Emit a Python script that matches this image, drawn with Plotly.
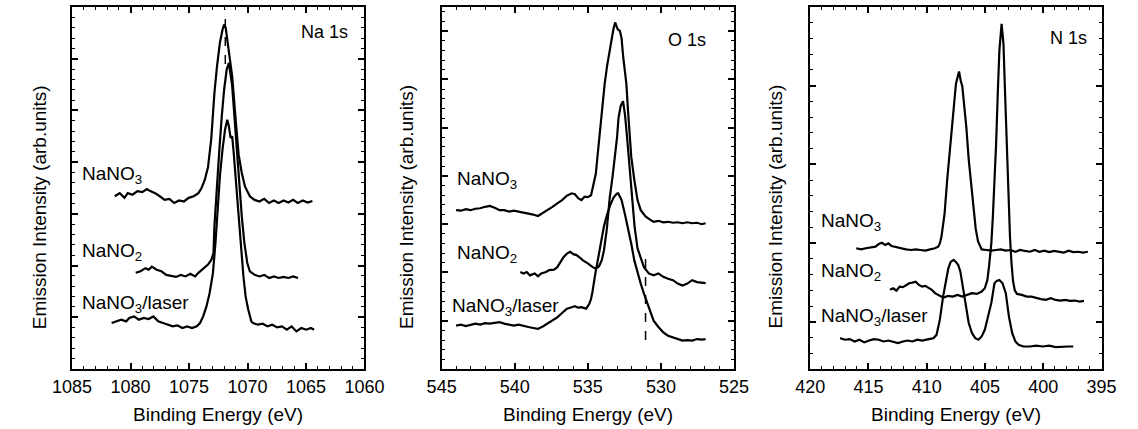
import plotly.graph_objects as go

# ---------------- spectra (binding energy in eV, intensity in arb. units) ----------------
# Na 1s
na_nano3 = [(1081.35,3.34),(1080.93,3.40),(1080.52,3.31),(1080.24,3.40),(1079.83,3.37),(1079.42,3.44),
            (1079.0,3.42),(1078.6,3.48),(1078.32,3.44),(1077.9,3.40),(1077.5,3.34),(1077.09,3.27),
            (1076.68,3.29),(1076.27,3.21),(1075.85,3.26),(1075.44,3.24),(1075.03,3.31),(1074.6,3.34),
            (1074.2,3.40),(1073.93,3.50),(1073.65,3.66),(1073.38,3.90),(1073.1,4.45),(1072.83,5.34),
            (1072.61,5.85),(1072.36,6.31),(1072.14,6.56),(1072.0,6.66),(1071.87,6.60),(1071.73,6.37),
            (1071.59,6.18),(1071.31,5.66),(1071.04,4.90),(1070.76,4.15),(1070.49,3.79),(1070.22,3.53),
            (1069.8,3.34),(1069.4,3.27),(1068.98,3.24),(1068.57,3.29),(1068.16,3.21),(1067.75,3.26),
            (1067.33,3.21),(1066.92,3.26),(1066.5,3.22),(1066.1,3.27),(1065.7,3.21),(1065.27,3.26),
            (1064.86,3.22),(1064.45,3.25)]
na_nano2 = [(1079.56,1.86),(1079.15,1.89),(1078.73,1.95),(1078.46,1.92),(1078.18,1.98),(1077.77,1.92),
            (1077.36,1.89),(1076.95,1.82),(1076.54,1.80),(1076.12,1.78),(1075.71,1.82),(1075.3,1.79),
            (1074.89,1.84),(1074.48,1.79),(1074.2,1.86),(1073.79,1.95),(1073.38,2.02),(1073.1,2.11),
            (1072.91,2.24),(1072.83,2.76),(1072.61,3.60),(1072.41,4.24),(1072.2,4.89),(1072.0,5.40),
            (1071.78,5.79),(1071.59,5.92),(1071.31,5.47),(1071.1,4.82),(1070.9,4.18),(1070.71,3.47),
            (1070.49,2.95),(1070.27,2.44),(1070.02,2.05),(1069.8,1.89),(1069.39,1.82),(1068.98,1.79),
            (1068.57,1.82),(1068.15,1.76),(1067.74,1.79),(1067.33,1.76),(1066.92,1.78),(1066.51,1.76),
            (1066.09,1.79),(1065.68,1.76)]
na_laser = [(1081.62,0.889),(1081.21,0.921),(1080.8,0.954),(1080.38,0.921),(1080.11,0.986),(1079.7,1.017),
            (1079.29,0.954),(1078.87,0.986),(1078.46,0.967),(1078.05,1.017),(1077.64,0.921),(1077.22,0.889),
            (1076.81,0.857),(1076.4,0.824),(1075.99,0.844),(1075.58,0.793),(1075.16,0.824),(1074.75,0.793),
            (1074.34,0.824),(1074.06,0.889),(1073.79,1.017),(1073.51,1.21),(1073.24,1.47),(1072.96,1.85),
            (1072.74,2.44),(1072.55,3.08),(1072.36,3.73),(1072.14,4.24),(1071.92,4.63),(1071.73,4.82),
            (1071.59,4.69),(1071.45,4.47),(1071.31,4.50),(1071.18,4.18),(1070.99,3.60),(1070.76,2.95),
            (1070.55,2.31),(1070.35,1.79),(1070.16,1.40),(1069.94,1.15),(1069.67,0.92),(1069.53,0.889),
            (1069.12,0.857),(1068.7,0.876),(1068.29,0.824),(1067.88,0.857),(1067.47,0.805),(1067.05,0.824),
            (1066.64,0.76),(1066.23,0.824),(1065.82,0.727),(1065.4,0.793),(1064.99,0.76),(1064.58,0.793),
            (1064.31,0.76)]

# O 1s
o_nano3 = [(544.01,3.29),(543.68,3.28),(543.35,3.31),(543.02,3.29),(542.69,3.32),(542.36,3.33),(542.03,3.36),
           (541.7,3.38),(541.37,3.34),(541.04,3.29),(540.72,3.29),(540.39,3.26),(540.06,3.28),(539.73,3.26),
           (539.4,3.24),(539.07,3.23),(538.74,3.20),(538.41,3.17),(538.08,3.23),(537.75,3.29),(537.42,3.36),
           (537.09,3.43),(536.76,3.50),(536.43,3.59),(536.1,3.64),(535.88,3.62),(535.66,3.54),(535.44,3.50),
           (535.22,3.57),(535.0,3.56),(534.78,3.60),(534.63,3.80),(534.45,4.05),(534.34,4.40),(534.19,4.89),
           (534.01,5.44),(533.84,5.93),(533.68,6.28),(533.53,6.56),(533.35,6.83),(533.25,7.04),(533.13,7.18),
           (532.96,7.04),(532.8,7.00),(532.69,6.85),(532.59,6.50),(532.48,6.20),(532.36,5.90),(532.26,5.40),
           (532.15,4.90),(532.03,4.40),(531.82,3.92),(531.6,3.50),(531.38,3.29),(531.05,3.16),(530.72,3.09),
           (530.5,3.05),(530.17,3.07),(529.84,3.04),(529.51,3.05),(529.18,3.03),(528.85,3.04),(528.52,3.02),
           (528.19,3.04),(527.86,3.02),(527.53,3.03),(527.2,3.00),(526.94,3.02)]
o_nano2 = [(539.62,2.01),(539.4,1.98),(539.18,2.01),(538.96,1.94),(538.63,1.98),(538.41,1.92),(538.19,1.98),
           (537.86,2.01),(537.64,2.05),(537.31,2.06),(537.09,2.11),(536.87,2.22),(536.65,2.32),(536.43,2.39),
           (536.21,2.43),(535.99,2.38),(535.77,2.36),(535.55,2.31),(535.33,2.25),(535.0,2.19),(534.67,2.11),
           (534.45,2.08),(534.23,2.13),(534.05,2.25),(533.9,2.45),(533.7,2.90),(533.5,3.55),(533.3,4.00),
           (533.15,4.35),(533.0,4.80),(532.9,5.20),(532.75,5.45),(532.59,5.55),(532.45,5.25),(532.3,4.75),
           (532.15,4.15),(532.0,3.55),(531.8,2.95),(531.6,2.50),(531.35,2.25),(531.16,2.11),(530.83,1.98),
           (530.5,1.94),(530.17,1.98),(529.84,1.91),(529.51,1.87),(529.18,1.84),(528.85,1.77),(528.52,1.73),
           (528.19,1.77),(527.86,1.84),(527.53,1.80),(527.2,1.78),(526.94,1.78)]
o_laser = [(544.01,0.90),(543.68,0.92),(543.35,0.89),(543.02,0.92),(542.69,0.94),(542.36,0.92),(542.03,0.95),
           (541.7,0.94),(541.37,0.96),(541.04,0.97),(540.72,0.94),(540.39,0.92),(540.06,0.90),(539.73,0.92),
           (539.4,0.89),(539.07,0.87),(538.74,0.85),(538.41,0.83),(538.08,0.88),(537.75,0.94),(537.42,1.00),
           (537.09,1.07),(536.76,1.16),(536.43,1.25),(536.1,1.28),(535.88,1.30),(535.66,1.27),(535.44,1.28),
           (535.11,1.25),(534.9,1.35),(534.78,1.45),(534.68,1.60),(534.5,1.95),(534.3,2.30),(534.1,2.65),
           (533.9,2.95),(533.68,3.20),(533.46,3.40),(533.24,3.55),(533.02,3.63),(532.92,3.64),(532.8,3.58),
           (532.69,3.50),(532.48,3.23),(532.26,2.95),(532.03,2.60),(531.82,2.25),(531.6,1.98),(531.38,1.77),
           (531.16,1.56),(530.94,1.37),(530.72,1.15),(530.5,1.00),(530.17,0.87),(529.84,0.76),(529.51,0.69),
           (529.18,0.66),(528.85,0.62),(528.52,0.59),(528.19,0.60),(527.86,0.59),(527.53,0.62),(527.2,0.61),
           (526.94,0.62)]

# N 1s
n_nano3 = [(416.05,7.67),(415.64,7.60),(415.23,7.67),(414.81,7.71),(414.4,7.77),(414.12,7.94),(413.85,8.02),
           (413.57,7.88),(413.29,7.98),(413.02,7.81),(412.61,7.73),(412.19,7.67),(411.78,7.60),(411.36,7.56),
           (410.95,7.60),(410.54,7.56),(410.12,7.52),(409.71,7.60),(409.3,7.67),(409.02,7.77),(408.88,7.98),
           (408.74,8.40),(408.6,9.04),(408.47,9.89),(408.25,12.0),(408.05,13.6),(407.85,15.4),(407.68,17.0),
           (407.5,18.1),(407.36,18.54),(407.23,18.9),(407.09,18.33),(406.95,17.95),(406.81,16.9),(406.61,15.4),
           (406.4,13.3),(406.18,11.6),(405.98,10.1),(405.8,8.9),(405.6,8.1),(405.43,7.77),(405.29,7.60),
           (404.88,7.56),(404.46,7.52),(404.05,7.56),(403.64,7.60),(403.22,7.52),(402.81,7.56),(402.4,7.45),
           (401.98,7.56),(401.57,7.50),(401.15,7.45),(400.74,7.56),(400.33,7.45),(399.91,7.52),(399.5,7.43),
           (399.08,7.50),(398.67,7.45),(398.25,7.39),(397.84,7.52),(397.43,7.43),(397.01,7.45),(396.6,7.39),
           (396.18,7.45)]
n_nano2 = [(413.16,5.03),(412.88,5.13),(412.6,4.98),(412.33,5.23),(412.05,5.20),(411.78,5.34),(411.5,5.45),
           (411.23,5.49),(410.95,5.55),(410.67,5.34),(410.4,5.23),(410.12,5.28),(409.84,5.13),(409.57,5.03),
           (409.29,4.82),(409.02,4.71),(408.74,4.60),(408.47,4.56),(408.19,4.65),(407.78,4.60),(407.36,4.71),
           (406.95,4.60),(406.53,4.71),(406.12,4.82),(405.71,4.77),(405.29,4.92),(405.02,5.13),(404.8,5.66),
           (404.66,6.50),(404.46,7.98),(404.33,9.67),(404.19,11.79),(404.05,14.32),(403.91,17.49),(403.77,20.23),
           (403.58,21.93),(403.42,20.66),(403.28,17.49),(403.14,14.32),(403.0,11.15),(402.86,8.40),(402.73,6.72),
           (402.6,5.60),(402.45,5.00),(402.26,4.77),(401.84,4.71),(401.43,4.60),(401.02,4.60),(400.6,4.50),
           (400.19,4.44),(399.78,4.39),(399.36,4.50),(398.95,4.39),(398.53,4.35),(398.12,4.39),(397.71,4.33),
           (397.29,4.35),(396.88,4.28),(396.52,4.33)]
n_laser = [(417.43,1.96),(417.02,1.86),(416.61,1.90),(416.19,1.75),(415.78,1.86),(415.36,1.69),(414.95,1.81),
           (414.54,1.90),(414.12,1.86),(413.71,1.75),(413.29,1.81),(412.88,1.75),(412.47,1.65),(412.05,1.75),
           (411.64,1.81),(411.23,1.75),(410.81,1.86),(410.4,1.81),(409.98,1.86),(409.43,1.96),(409.16,2.17),
           (408.88,3.12),(408.6,4.60),(408.33,5.60),(408.15,6.40),(407.95,6.80),(407.7,6.93),(407.5,6.80),
           (407.3,6.60),(407.12,6.20),(406.95,5.45),(406.8,4.60),(406.67,3.97),(406.4,2.92),(406.12,2.28),
           (405.84,1.96),(405.57,1.86),(405.29,2.07),(405.02,2.49),(404.74,3.33),(404.46,4.20),(404.19,5.45),
           (404.0,5.60),(403.77,5.66),(403.5,5.45),(403.22,4.82),(402.95,3.33),(402.67,2.28),(402.4,1.75),
           (402.12,1.54),(401.71,1.43),(401.15,1.43),(400.6,1.48),(400.05,1.43),(399.5,1.48),(398.95,1.39),
           (398.39,1.43),(397.84,1.43),(397.43,1.43)]

# reference energies marked with dashed lines: (energy, y_from, y_to)
na_marker = (1071.9, 5.9, 6.95)
o_marker = (531.05, 0.6, 2.3)

# panel ranges (high -> low energy), y ranges and tick steps
panel_titles = ["Na 1s", "O 1s", "N 1s"]
x_ranges = [(1085, 1060), (545, 525), (420, 395)]
y_ranges = [(0, 7), (0, 7.5), (0, 23)]
y_ticks = [(0, 1, 0.2), (0, 1, 0.2), (3, 5, 1)]   # (tick0, major step, minor step)
sample_names = ["NaNO<sub>3</sub>", "NaNO<sub>2</sub>", "NaNO<sub>3</sub>/laser"]

# ---------------- figure ----------------
INK = "#000000"
FONT = "Liberation Sans, Arial, Helvetica, sans-serif"
W, H = 1138, 429
x_px = [(54, 357), (437, 740), (819, 1121)]
top_px, bot_px = 7, 369
ydom = [1 - bot_px / H, 1 - top_px / H]

fig = go.Figure()


def unzip(pairs):
    return [p[0] for p in pairs], [p[1] for p in pairs]


panels = [
    [na_nano3, na_nano2, na_laser],
    [o_nano3, o_nano2, o_laser],
    [n_nano3, n_nano2, n_laser],
]
for i, curves in enumerate(panels):
    ax = "" if i == 0 else str(i + 1)
    for pairs in curves:
        xs, ys = unzip(pairs)
        fig.add_trace(go.Scatter(x=xs, y=ys, mode="lines", xaxis="x" + ax, yaxis="y" + ax,
                                 line=dict(color=INK, width=2.2), showlegend=False,
                                 hoverinfo="skip"))

for ax, (e, y0, y1) in (("", na_marker), ("2", o_marker)):
    fig.add_trace(go.Scatter(x=[e, e], y=[y0, y1], mode="lines", xaxis="x" + ax, yaxis="y" + ax,
                             line=dict(color=INK, width=1.5, dash="dash"), showlegend=False,
                             hoverinfo="skip"))

layout = dict(width=W, height=H, margin=dict(l=0, r=0, t=0, b=0, pad=0),
              paper_bgcolor="white", plot_bgcolor="white",
              font=dict(family=FONT, color=INK), showlegend=False)

# every panel: primary axes carry the frame and the major ticks (mirrored onto the
# opposite side), overlay axes add the minor tick rows
for i in range(3):
    ax = "" if i == 0 else str(i + 1)
    t0, dt, mdt = y_ticks[i]
    xr, yr = list(x_ranges[i]), list(y_ranges[i])
    layout["xaxis" + ax] = dict(domain=[x_px[i][0] / W, x_px[i][1] / W], anchor="y" + ax,
                                range=xr, tick0=0, dtick=5, ticks="inside", ticklen=6,
                                tickwidth=1.5, tickcolor=INK, showline=True, linewidth=2,
                                linecolor=INK, mirror="ticks", showgrid=False, zeroline=False,
                                tickfont=dict(size=18, family=FONT, color=INK))
    layout["yaxis" + ax] = dict(domain=ydom, anchor="x" + ax, range=yr, tick0=t0, dtick=dt,
                                ticks="inside", ticklen=6, tickwidth=1.5, tickcolor=INK,
                                showline=True, linewidth=2, linecolor=INK, mirror="ticks",
                                showgrid=False, zeroline=False, showticklabels=False)
    kx, ky = str(4 + i), str(4 + i)
    layout["xaxis" + kx] = dict(overlaying="x" + ax, anchor="y" + ax, range=xr, tick0=0,
                                dtick=1, ticks="inside", ticklen=3, tickwidth=1,
                                tickcolor=INK, mirror="ticks", showline=False,
                                showgrid=False, zeroline=False, showticklabels=False)
    layout["yaxis" + ky] = dict(overlaying="y" + ax, anchor="x" + ax, range=yr, tick0=0,
                                dtick=mdt, ticks="inside", ticklen=3, tickwidth=1,
                                tickcolor=INK, mirror="ticks", showline=False,
                                showgrid=False, zeroline=False, showticklabels=False)
    fig.add_trace(go.Scatter(x=[xr[0]], y=[yr[0]], xaxis="x" + kx, yaxis="y" + ky,
                             mode="markers", marker=dict(opacity=0), showlegend=False,
                             hoverinfo="skip"))

fig.update_layout(**layout)

# axis titles
for i in range(3):
    cx = (x_px[i][0] + x_px[i][1]) / 2 / W
    fig.add_annotation(x=cx, y=1 - 414 / H, xref="paper", yref="paper",
                       xanchor="center", yanchor="middle",
                       text="Binding Energy (eV)", showarrow=False,
                       font=dict(size=19, family=FONT, color=INK))
for px in (20, 400, 782):
    fig.add_annotation(x=px / W, y=1 - 207 / H, xref="paper", yref="paper",
                       xanchor="center", yanchor="middle",
                       text="Emission Intensity (arb.units)", textangle=-90, showarrow=False,
                       font=dict(size=19, family=FONT, color=INK))

# core-level titles
title_pos = [(0.9505, 0.931), (0.911, 0.909), (0.957, 0.914)]
for i, (tx, ty) in enumerate(title_pos):
    ax = "" if i == 0 else str(i + 1)
    fig.add_annotation(x=tx, y=ty, xref="x" + ax + " domain", yref="y" + ax + " domain",
                       text=panel_titles[i], showarrow=False, xanchor="right", yanchor="middle",
                       font=dict(size=18, family=FONT, color=INK))

# sample labels (energy, intensity) per panel
label_pos = [
    [(1084.3, 3.75), (1084.3, 2.27), (1084.3, 1.26)],
    [(544.06, 3.92), (544.06, 2.38), (544.45, 1.28)],
    [(419.23, 9.33), (419.23, 6.17), (419.23, 3.31)],
]
for i, spots in enumerate(label_pos):
    ax = "" if i == 0 else str(i + 1)
    for name, (lx, ly) in zip(sample_names, spots):
        fig.add_annotation(x=lx, y=ly, xref="x" + ax, yref="y" + ax, text=name,
                           showarrow=False, xanchor="left", yanchor="middle",
                           font=dict(size=19, family=FONT, color=INK))

fig.write_html("out.html")
